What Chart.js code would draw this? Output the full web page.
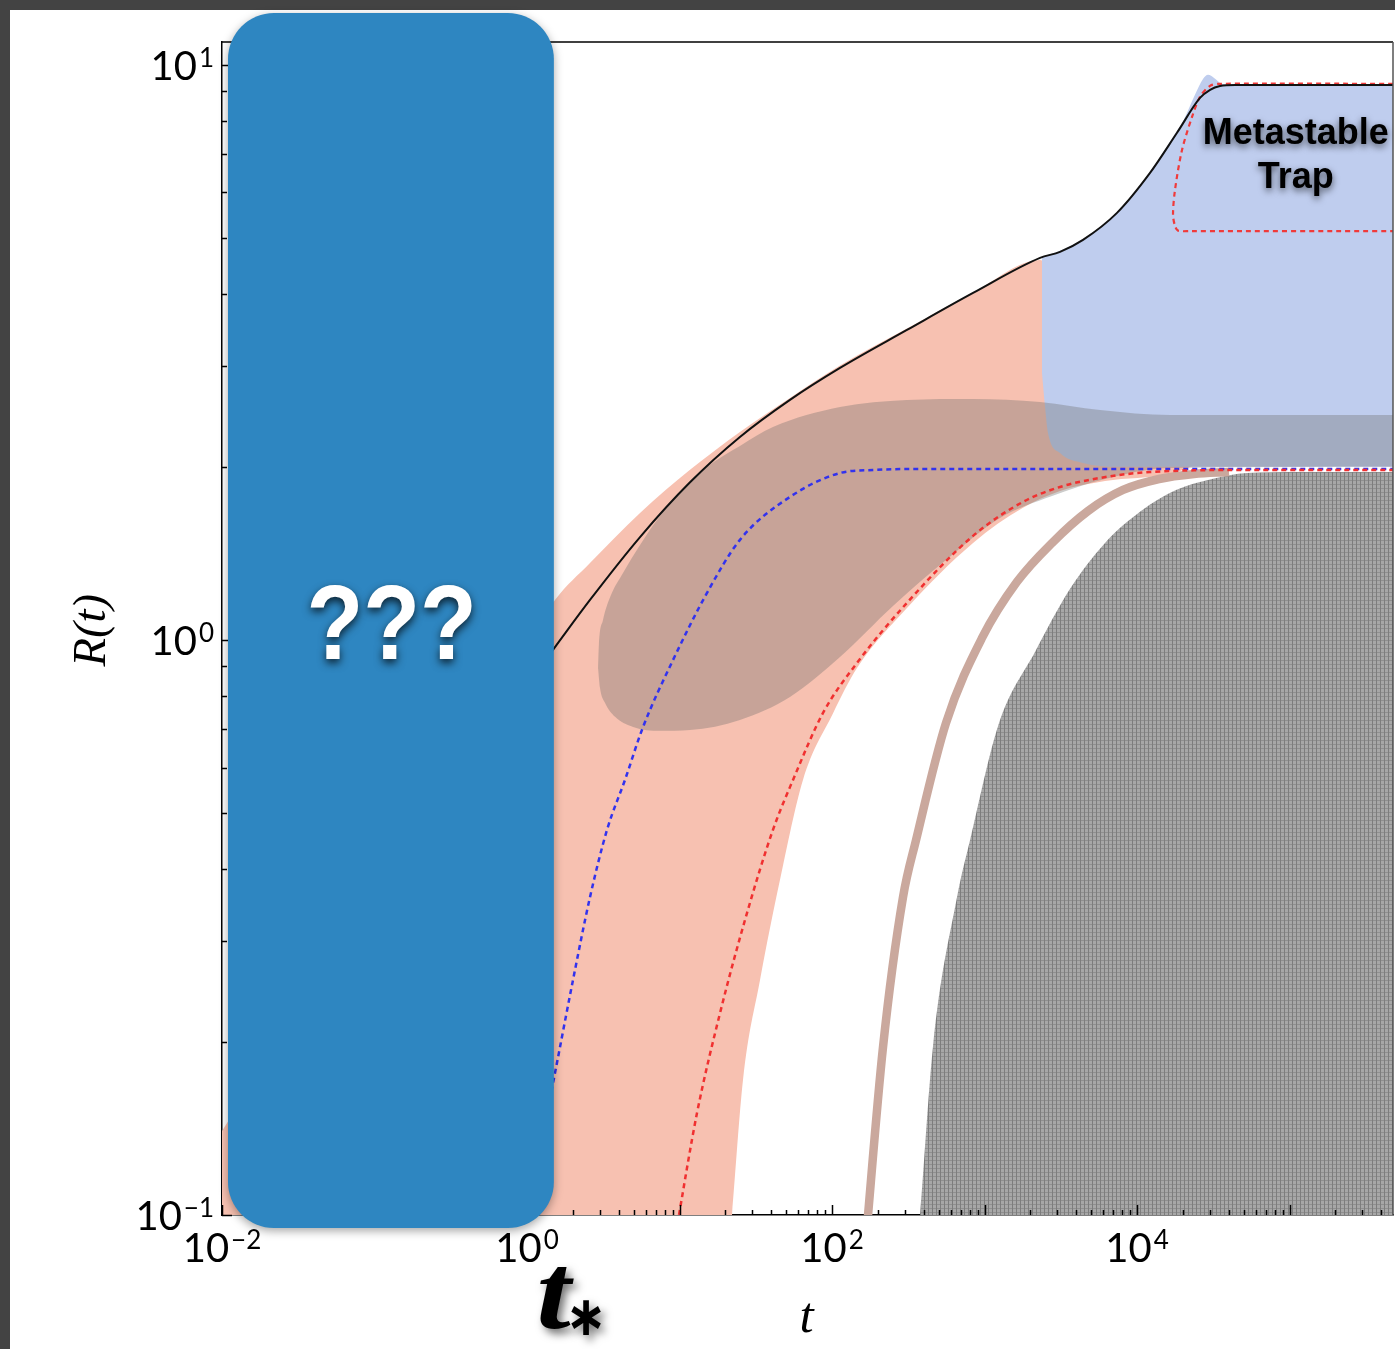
<!DOCTYPE html>
<html>
<head>
<meta charset="utf-8">
<script src="https://cdn.jsdelivr.net/npm/chart.js@4.4.1/dist/chart.umd.min.js"></script>
<style>
html, body { margin: 0; padding: 0; background: #434343; }
canvas { display: block; }
</style>
</head>
<body>
<canvas id="chart" width="1395" height="1349"></canvas>
<script>
// axis ranges and tick labels (powers of ten)
var tMin = 0.01, tMax = 4.77e5;
var rMin = 0.1, rMax = 10.96;
var xLabelExps = [-2, 0, 2, 4];
var yLabelExps = [-1, 0, 1];
var xDecades = [-2, -1, 0, 1, 2, 3, 4, 5];
var yDecades = [-1, 0, 1];

// values, pairs of [t, R(t)]
var blackCurve = [[1.0, 0.835], [1.526, 0.972], [2.588, 1.174], [5.51, 1.51], [11.72, 1.88], [24.9, 2.254],
  [53.0, 2.615], [112.8, 2.972], [310, 3.46], [841, 4.013], [2312, 4.617], [3126, 4.73], [4424, 4.963],
  [7390, 5.53], [12170, 6.49], [18290, 7.62], [25880, 8.76], [30130, 9.05], [35000, 9.19], [43940, 9.23],
  [4.77e5, 9.23]];

var blueDotted = [[1.0, 0.1], [1.526, 0.1766], [2.003, 0.2563], [2.588, 0.357], [3.347, 0.4675], [4.39, 0.571],
  [5.77, 0.706], [9.07, 0.923], [15.14, 1.207], [24.9, 1.493], [53.0, 1.773], [112.8, 1.951], [185.8, 1.975],
  [377.6, 1.983], [4.77e5, 1.983]];

var redDotted = [[9.07, 0.0868], [9.92, 0.1], [13.02, 0.1504], [18.44, 0.2245], [27.7, 0.335], [41.0, 0.4675],
  [55.5, 0.571], [87.3, 0.7465], [145.8, 0.912], [310, 1.16], [841, 1.517], [1788, 1.738], [3126, 1.845],
  [5720, 1.913], [12170, 1.959], [55100, 1.975], [4.77e5, 1.975]];

var trapOutline = [[4.77e5, 9.27], [35000, 9.27], [30100, 9.195], [25880, 8.8], [22950, 8.12], [19720, 7.11],
  [17740, 6.06], [17220, 5.49], [17740, 5.25], [18570, 5.15], [22200, 5.14], [4.77e5, 5.14]];

var brownBand = [[164.5, 0.0868], [216, 0.196], [292, 0.357], [355.7, 0.449], [559, 0.717], [963, 1.008],
  [1633, 1.262], [2773, 1.475], [4773, 1.676], [8090, 1.823], [13940, 1.905], [23650, 1.944], [40100, 1.959]];

// shaded regions, each as an upper and a lower edge
var salmonTop = [[0.01, 0.14], [1.526, 1.174], [2.588, 1.361], [5.51, 1.663], [11.72, 1.976], [24.9, 2.30],
  [53.0, 2.636], [112.8, 3.0], [310, 3.48], [841, 4.02], [2312, 4.58], [2700, 4.45], [5000, 3.9], [4.77e5, 3.9]];
var salmonBottom = [[0.01, 0.0868], [21.1, 0.0868], [22.1, 0.1], [26.1, 0.172], [33.7, 0.256], [45.6, 0.383],
  [64.5, 0.571], [101.6, 0.746], [145.8, 0.894], [310, 1.137], [841, 1.475], [1788, 1.697], [3126, 1.816],
  [6170, 1.89], [16450, 1.944], [40000, 2.1], [4.77e5, 2.1]];

var trapTop = [[2382, 4.63], [3126, 4.75], [4424, 4.98], [7390, 5.55], [12170, 6.52], [18290, 7.68],
  [20040, 7.98], [23990, 8.87], [27080, 9.455], [29240, 9.61], [32000, 9.49], [36060, 9.27], [43940, 9.23],
  [4.77e5, 9.23]];
var trapBottom = [[2382, 2.913], [2494, 2.543], [2608, 2.291], [3126, 2.114], [4424, 2.031], [7390, 2.0],
  [4.77e5, 2.0]];

var overlapTop = [[2.923, 0.894], [2.96, 0.98], [3.15, 1.083], [3.51, 1.188], [4.26, 1.308], [5.51, 1.463],
  [7.12, 1.617], [10.07, 1.802], [15.14, 1.999], [24.9, 2.175], [41.0, 2.346], [112.8, 2.542], [310, 2.615],
  [841, 2.625], [2312, 2.594], [5720, 2.512], [16450, 2.462], [4.77e5, 2.462]];
var overlapBottom = [[2.923, 0.894], [3.011, 0.825], [3.25, 0.777], [3.78, 0.735], [4.96, 0.706], [7.45, 0.695],
  [11.72, 0.697], [24.9, 0.726], [53.0, 0.796], [112.8, 0.934], [251, 1.146], [559, 1.377], [1264, 1.63],
  [2773, 1.78], [6170, 1.905], [16450, 1.99], [4.77e5, 2.0]];

var grayEdge = [[361, 0.0868], [377.6, 0.1], [459, 0.196], [660, 0.357], [804, 0.449], [1245, 0.717],
  [2143, 0.953], [3640, 1.227], [6170, 1.475], [10620, 1.676], [18020, 1.823], [31040, 1.905], [52650, 1.951],
  [117200, 1.959], [4.77e5, 1.96]];

function pts(arr) {
  return arr.map(function(p) { return {x: p[0], y: p[1]}; });
}

// fine cross-hatch for the grey region
var patCanvas = document.createElement('canvas');
patCanvas.width = 4;
patCanvas.height = 4;
var pg = patCanvas.getContext('2d');
pg.fillStyle = '#a7a7a7';
pg.fillRect(0, 0, 4, 4);
pg.fillStyle = '#8f8f8f';
pg.fillRect(0, 0, 4, 1);
pg.fillStyle = '#7d7d7d';
pg.fillRect(0, 0, 1, 4);
var grayFill = pg.createPattern(patCanvas, 'repeat');

function edge(data, fill, color, order) {
  return {data: pts(data), borderWidth: 0, borderColor: 'transparent', backgroundColor: color || 'transparent',
    pointRadius: 0, fill: fill, cubicInterpolationMode: 'monotone', order: order};
}
function curve(data, color, width, dash, order, mono) {
  return {data: pts(data), borderColor: color, borderWidth: width, borderDash: dash, pointRadius: 0,
    fill: false, tension: 0.3, cubicInterpolationMode: mono ? 'monotone' : 'default', order: order};
}

function powLabel(ctx, e, ax, baseY, align) {
  var es = e < 0 ? '\u2212' + (-e) : String(e);
  ctx.font = '40px Lato';
  var w1 = ctx.measureText('10').width;
  ctx.font = '26px Lato';
  var w2 = ctx.measureText(es).width;
  var total = w1 + w2 + 2;
  var left = align === 'center' ? ax - total / 2 : ax - total;
  ctx.textAlign = 'left';
  ctx.textBaseline = 'alphabetic';
  ctx.font = '40px Lato';
  ctx.fillText('10', left, baseY);
  ctx.font = '26px Lato';
  ctx.fillText(es, left + w1 + 2, baseY - 13);
}

// draw text so its ink box has height h (and width w if given), centred on cx, cy
function glyph(ctx, text, style, family, h, cx, cy, w) {
  ctx.textAlign = 'left';
  ctx.textBaseline = 'alphabetic';
  ctx.font = style + ' 100px ' + family;
  var m = ctx.measureText(text);
  var size = 100 * h / (m.actualBoundingBoxAscent + m.actualBoundingBoxDescent);
  ctx.font = style + ' ' + size.toFixed(1) + 'px ' + family;
  m = ctx.measureText(text);
  var inkW = m.actualBoundingBoxRight + m.actualBoundingBoxLeft;
  var sx = w ? w / inkW : 1;
  ctx.save();
  ctx.translate(cx, cy);
  ctx.scale(sx, 1);
  ctx.fillText(text, -(m.actualBoundingBoxRight - m.actualBoundingBoxLeft) / 2,
    -(m.actualBoundingBoxDescent - m.actualBoundingBoxAscent) / 2);
  ctx.restore();
}

function shadow(ctx, color, blur, dx, dy) {
  ctx.shadowColor = color;
  ctx.shadowBlur = blur;
  ctx.shadowOffsetX = dx;
  ctx.shadowOffsetY = dy;
}

var decor = {
  id: 'decor',
  beforeDraw: function(chart) {
    var ctx = chart.ctx;
    ctx.save();
    ctx.fillStyle = '#434343';
    ctx.fillRect(0, 0, chart.width, chart.height);
    ctx.fillStyle = '#ffffff';
    ctx.fillRect(10, 10, chart.width - 10, chart.height - 10);
    ctx.restore();
  },
  afterDatasetsDraw: function(chart) {
    var ctx = chart.ctx, a = chart.chartArea;
    var xs = chart.scales.x, ys = chart.scales.y;
    ctx.save();
    ctx.strokeStyle = '#000';
    ctx.lineWidth = 1.5;
    ctx.beginPath();
    xDecades.forEach(function(d) {
      for (var m = 1; m < 10; m++) {
        var v = m * Math.pow(10, d);
        if (v < tMin || v > tMax) continue;
        var px = Math.round(xs.getPixelForValue(v)) + 0.5;
        ctx.moveTo(px, a.bottom);
        ctx.lineTo(px, a.bottom - (m === 1 ? 10 : 5));
      }
    });
    yDecades.forEach(function(d) {
      for (var m = 1; m < 10; m++) {
        var v = m * Math.pow(10, d);
        if (v < rMin || v > rMax) continue;
        var py = Math.round(ys.getPixelForValue(v)) + 0.5;
        ctx.moveTo(a.left, py);
        ctx.lineTo(a.left + (m === 1 ? 10 : 5), py);
      }
    });
    ctx.stroke();
    ctx.beginPath();
    ctx.moveTo(a.left, a.top);
    ctx.lineTo(a.right, a.top);
    ctx.stroke();
    ctx.strokeStyle = '#555';
    ctx.beginPath();
    ctx.moveTo(a.right, a.top);
    ctx.lineTo(a.right, a.bottom);
    ctx.stroke();
    ctx.restore();
  },
  afterDraw: function(chart) {
    var ctx = chart.ctx, a = chart.chartArea;
    var xs = chart.scales.x, ys = chart.scales.y;
    ctx.save();

    // tick labels
    ctx.fillStyle = '#000';
    xLabelExps.forEach(function(e) {
      powLabel(ctx, e, xs.getPixelForValue(Math.pow(10, e)), a.bottom + 47, 'center');
    });
    yLabelExps.forEach(function(e) {
      powLabel(ctx, e, a.left - 8, ys.getPixelForValue(Math.pow(10, e)) + 15, 'right');
    });

    // axis titles
    glyph(ctx, 't', 'italic', '"Liberation Serif"', 29, xs.getPixelForValue(70), a.bottom + 103);
    ctx.save();
    ctx.translate(a.left - 129, ys.getPixelForValue(1) - 9);
    ctx.rotate(-Math.PI / 2);
    glyph(ctx, 'R(t)', 'italic', '"Liberation Serif"', 43, 0, 0);
    ctx.restore();

    // covering box with question marks
    var bl = a.left + 6, br = xs.getPixelForValue(1.5), bt = a.top - 29, bb = a.bottom + 13, r = 46;
    ctx.save();
    shadow(ctx, 'rgba(0,0,0,0.35)', 10, 0, 3);
    ctx.fillStyle = '#2e86c1';
    ctx.beginPath();
    ctx.moveTo(bl + r, bt);
    ctx.arcTo(br, bt, br, bb, r);
    ctx.arcTo(br, bb, bl, bb, r);
    ctx.arcTo(bl, bb, bl, bt, r);
    ctx.arcTo(bl, bt, br, bt, r);
    ctx.closePath();
    ctx.fill();
    ctx.restore();

    ctx.save();
    shadow(ctx, 'rgba(0,0,0,0.75)', 8, 0, 4);
    ctx.fillStyle = '#ffffff';
    glyph(ctx, '???', 'bold', '"Liberation Sans"', 75, (bl + br) / 2, ys.getPixelForValue(1.075), 162);
    ctx.restore();

    // t* marker
    ctx.save();
    shadow(ctx, 'rgba(0,0,0,0.55)', 9, 4, 5);
    ctx.fillStyle = '#000';
    glyph(ctx, 't', 'bold italic', '"Liberation Serif"', 63, xs.getPixelForValue(1.57), a.bottom + 83, 34);
    glyph(ctx, '\u2217', 'bold', '"DejaVu Sans"', 35, xs.getPixelForValue(2.43), a.bottom + 102, 30);
    ctx.restore();

    // trap label
    ctx.save();
    shadow(ctx, 'rgba(0,0,0,0.6)', 7, 0, 3);
    ctx.fillStyle = '#000';
    ctx.font = 'bold 36px "Liberation Sans"';
    ctx.textAlign = 'center';
    ctx.textBaseline = 'alphabetic';
    var lx = xs.getPixelForValue(1.1e5);
    ctx.fillText('Metastable', lx, ys.getPixelForValue(7.29));
    ctx.fillText('Trap', lx, ys.getPixelForValue(6.11));
    ctx.restore();

    ctx.restore();
  }
};

var ctx = document.getElementById('chart').getContext('2d');
var chart = new Chart(ctx, {
  type: 'line',
  data: {
    datasets: [
      curve(blackCurve, '#111111', 2, [], 1, true),
      curve(trapOutline, '#f03a3a', 2.2, [5, 4], 2, false),
      curve(redDotted, '#f03030', 2.5, [5, 4], 3, true),
      curve(blueDotted, '#3232ee', 2.5, [5, 4], 4, true),
      curve(brownBand, '#caa89d', 8.5, [], 5, true),
      edge(grayEdge, 'start', grayFill, 6),
      edge(overlapTop, '+1', 'rgba(110,108,106,0.35)', 7),
      edge(overlapBottom, false, null, 7),
      edge(trapTop, '+1', '#bfcdee', 8),
      edge(trapBottom, false, null, 8),
      edge(salmonTop, '+1', '#f7c1b1', 9),
      edge(salmonBottom, false, null, 9)
    ]
  },
  options: {
    responsive: false,
    animation: false,
    devicePixelRatio: 1,
    events: [],
    layout: {padding: {left: 222, right: 2, top: 42, bottom: 134}},
    plugins: {legend: {display: false}, tooltip: {enabled: false}},
    scales: {
      x: {
        type: 'logarithmic', min: tMin, max: tMax, z: 1,
        grid: {display: false}, ticks: {display: false},
        border: {display: true, color: '#000', width: 1.5},
        afterFit: function(s) { s.height = 0; }
      },
      y: {
        type: 'logarithmic', min: rMin, max: rMax, z: 1,
        grid: {display: false}, ticks: {display: false},
        border: {display: true, color: '#000', width: 1.5},
        afterFit: function(s) { s.width = 0; }
      }
    }
  },
  plugins: [decor]
});
</script>
</body>
</html>
